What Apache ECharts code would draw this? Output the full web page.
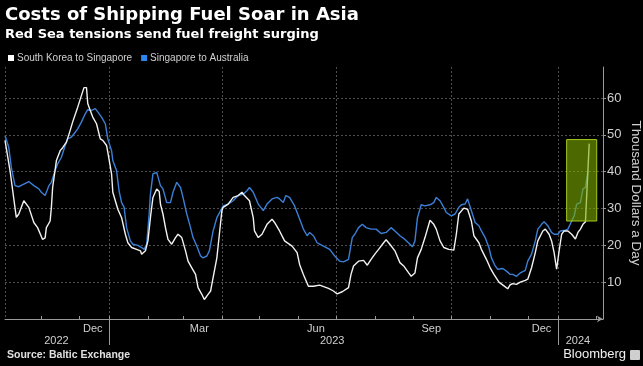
<!DOCTYPE html>
<html><head><meta charset="utf-8">
<script src="https://cdn.jsdelivr.net/npm/echarts@6/dist/echarts.min.js"></script>
<style>html,body{margin:0;padding:0;background:#000;}#c{width:643px;height:366px;}</style>
</head><body><div id="c"></div>
<script>
// South Korea to Singapore (thousand USD/day)
const southKoreaToSingapore = [
['2022-10-03',48.5],['2022-10-07',40.3],['2022-10-12',27.6],['2022-10-14',28.5],['2022-10-18',32.1],['2022-10-22',30.3],['2022-10-26',26.2],['2022-10-29',24.8],
['2022-11-02',21.6],['2022-11-04',22.0],['2022-11-05',24.8],['2022-11-08',26.6],['2022-11-09',30.3],['2022-11-10',35.7],['2022-11-13',43.0],['2022-11-16',45.7],['2022-11-18',46.5],['2022-11-21',48.0],['2022-11-24',51.2],['2022-11-26',53.5],['2022-11-30',57.5],
['2022-12-03',60.7],['2022-12-05',62.8],['2022-12-07',62.8],['2022-12-08',58.5],['2022-12-10',56.6],['2022-12-12',54.8],['2022-12-15',53.0],['2022-12-18',48.9],['2022-12-20',48.5],['2022-12-23',47.1],['2022-12-24',45.3],
['2023-01-03',39.4],['2023-01-04',34.4],['2023-01-06',32.1],['2023-01-08',29.8],['2023-01-11',27.5],['2023-01-14',23.0],['2023-01-16',20.7],['2023-01-19',19.4],['2023-01-23',18.9],['2023-01-26',18.5],['2023-01-27',17.6],['2023-01-30',18.5],
['2023-02-01',21.2],['2023-02-03',27.5],['2023-02-05',33.0],['2023-02-08',35.3],['2023-02-10',34.6],['2023-02-11',31.2],['2023-02-13',28.5],['2023-02-15',24.8],['2023-02-17',21.6],['2023-02-20',20.3],['2023-02-23',22.1],['2023-02-25',23.0],['2023-02-28',22.1],
['2023-03-03',18.5],['2023-03-05',15.7],['2023-03-08',13.9],['2023-03-11',12.1],['2023-03-13',8.5],['2023-03-16',6.7],['2023-03-18',5.3],['2023-03-21',6.7],['2023-03-23',7.6],['2023-03-25',11.2],['2023-03-28',16.6],['2023-03-30',23.0],
['2023-04-01',29.4],['2023-04-02',30.3],['2023-04-06',31.2],['2023-04-10',33.0],['2023-04-14',33.5],['2023-04-17',34.4],['2023-04-19',33.5],['2023-04-23',32.1],['2023-04-26',27.5],['2023-04-27',23.9],['2023-04-30',22.1],
['2023-05-03',23.0],['2023-05-07',25.7],['2023-05-11',27.1],['2023-05-13',26.2],['2023-05-17',23.9],['2023-05-21',21.2],['2023-05-27',19.8],['2023-05-31',18.0],
['2023-06-02',14.8],['2023-06-05',12.1],['2023-06-09',8.9],['2023-06-13',8.9],['2023-06-18',9.2],['2023-06-25',8.3],['2023-06-29',7.6],
['2023-07-02',6.8],['2023-07-06',7.4],['2023-07-11',8.5],['2023-07-13',12.1],['2023-07-15',14.4],['2023-07-19',15.7],['2023-07-23',15.9],['2023-07-26',14.6],['2023-07-29',16.2],
['2023-08-01',17.6],['2023-08-04',18.9],['2023-08-08',20.7],['2023-08-10',21.5],['2023-08-13',20.3],['2023-08-17',18.5],['2023-08-21',15.3],['2023-08-24',14.4],['2023-08-28',12.5],['2023-08-30',11.6],
['2023-09-02',12.5],['2023-09-04',16.6],['2023-09-07',18.9],['2023-09-10',22.1],['2023-09-14',26.8],['2023-09-17',25.7],['2023-09-19',24.4],['2023-09-22',21.2],['2023-09-25',19.4],['2023-09-29',18.9],
['2023-10-03',18.7],['2023-10-05',23.0],['2023-10-07',28.5],['2023-10-11',30.1],['2023-10-14',29.8],['2023-10-17',26.6],['2023-10-19',22.6],['2023-10-23',20.7],['2023-10-25',18.9],['2023-10-29',16.2],
['2023-11-01',13.9],['2023-11-04',12.1],['2023-11-08',10.0],['2023-11-12',9.0],['2023-11-15',8.2],['2023-11-17',9.3],['2023-11-19',9.6],['2023-11-22',9.4],['2023-11-25',10.0],['2023-11-29',10.5],
['2023-12-01',10.8],['2023-12-04',13.9],['2023-12-07',18.0],['2023-12-09',21.2],['2023-12-13',23.9],['2023-12-15',24.4],['2023-12-18',23.0],['2023-12-20',21.2],['2023-12-22',18.0],['2023-12-24',13.5],
['2024-01-02',18.5],['2024-01-04',23.0],['2024-01-06',23.9],['2024-01-09',23.9],['2024-01-12',23.0],['2024-01-15',21.7],['2024-01-17',23.5],['2024-01-19',24.4],['2024-01-21',25.7],['2024-01-23',26.4],['2024-01-26',47.6]
];
// Singapore to Australia (thousand USD/day)
const singaporeToAustralia = [
['2022-10-03',49.8],['2022-10-06',46.6],['2022-10-08',41.2],['2022-10-11',36.2],['2022-10-14',35.9],['2022-10-18',36.6],['2022-10-22',37.3],['2022-10-26',36.2],['2022-10-30',35.3],
['2022-11-01',34.4],['2022-11-04',33.5],['2022-11-07',36.2],['2022-11-09',37.1],['2022-11-12',40.3],['2022-11-14',42.1],['2022-11-17',43.9],['2022-11-20',47.1],['2022-11-22',48.9],['2022-11-25',49.4],['2022-11-28',50.7],['2022-11-30',51.6],
['2022-12-03',53.5],['2022-12-06',55.7],['2022-12-08',56.8],['2022-12-11',56.6],['2022-12-14',57.1],['2022-12-16',56.2],['2022-12-19',54.8],['2022-12-22',53.0],['2022-12-24',48.9],
['2023-01-03',45.7],['2023-01-04',43.0],['2023-01-07',40.3],['2023-01-09',34.8],['2023-01-11',31.6],['2023-01-13',30.3],['2023-01-15',24.8],['2023-01-18',21.2],['2023-01-20',20.3],['2023-01-24',20.0],['2023-01-27',19.4],['2023-01-29',18.9],['2023-01-31',20.3],
['2023-02-02',28.5],['2023-02-03',33.9],['2023-02-05',39.4],['2023-02-08',39.8],['2023-02-11',36.2],['2023-02-13',35.3],['2023-02-16',31.6],['2023-02-19',31.6],['2023-02-21',34.4],['2023-02-24',37.1],['2023-02-27',35.7],
['2023-03-01',33.0],['2023-03-04',28.5],['2023-03-07',24.8],['2023-03-09',22.1],['2023-03-12',19.8],['2023-03-15',17.1],['2023-03-17',16.6],['2023-03-20',17.1],['2023-03-22',18.5],['2023-03-25',23.9],['2023-03-28',27.5],['2023-03-31',29.4],
['2023-04-02',30.7],['2023-04-06',31.2],['2023-04-10',32.1],['2023-04-14',33.5],['2023-04-18',33.9],['2023-04-21',34.8],['2023-04-23',35.7],['2023-04-26',34.4],['2023-04-30',31.2],
['2023-05-04',29.4],['2023-05-07',31.2],['2023-05-11',32.6],['2023-05-15',33.0],['2023-05-17',32.6],['2023-05-20',31.6],['2023-05-22',33.5],['2023-05-25',33.0],['2023-05-29',30.7],
['2023-06-01',28.0],['2023-06-05',24.4],['2023-06-08',22.6],['2023-06-10',23.5],['2023-06-13',22.6],['2023-06-16',20.7],['2023-06-18',20.3],['2023-06-21',19.8],['2023-06-26',18.9],['2023-06-30',17.1],
['2023-07-04',15.7],['2023-07-07',15.5],['2023-07-11',16.2],['2023-07-14',22.1],['2023-07-16',23.0],['2023-07-19',24.8],['2023-07-22',25.7],['2023-07-25',24.8],['2023-07-29',24.4],
['2023-08-02',24.4],['2023-08-06',23.2],['2023-08-10',23.5],['2023-08-14',24.8],['2023-08-17',23.9],['2023-08-21',22.6],['2023-08-25',21.6],['2023-08-29',20.3],['2023-08-31',19.6],
['2023-09-02',21.2],['2023-09-04',27.5],['2023-09-07',31.0],['2023-09-10',30.7],['2023-09-14',31.0],['2023-09-17',31.6],['2023-09-19',33.0],['2023-09-22',32.1],['2023-09-25',30.3],['2023-09-27',28.9],
['2023-10-01',28.0],['2023-10-04',28.5],['2023-10-07',30.3],['2023-10-09',31.0],['2023-10-12',31.2],['2023-10-14',32.6],['2023-10-17',29.4],['2023-10-20',26.2],['2023-10-23',25.3],['2023-10-25',23.9],['2023-10-28',22.1],['2023-10-31',19.4],
['2023-11-02',16.6],['2023-11-05',14.4],['2023-11-07',13.5],['2023-11-11',13.7],['2023-11-14',13.0],['2023-11-17',12.1],['2023-11-19',12.1],['2023-11-22',11.6],['2023-11-25',12.5],['2023-11-29',13.2],
['2023-12-01',15.7],['2023-12-04',17.6],['2023-12-07',21.2],['2023-12-09',24.4],['2023-12-12',25.7],['2023-12-14',26.4],['2023-12-17',25.3],['2023-12-20',23.5],['2023-12-22',23.0],
['2024-01-01',23.0],['2024-01-03',23.9],['2024-01-07',24.1],['2024-01-09',24.4],['2024-01-12',26.6],['2024-01-14',28.0],['2024-01-16',31.2],['2024-01-19',31.6],['2024-01-21',35.3],['2024-01-23',35.7],['2024-01-25',40.3]
];
const monthLabels = [['2022-12-12','Dec'],['2023-03-14','Mar'],['2023-06-15','Jun'],['2023-09-15','Sep'],['2023-12-12','Dec']];
const yearLabels = [['2022-11-13','2022'],['2023-06-28','2023'],['2024-01-17','2024']];
const yTickLabels = [10,20,30,40,50,60];
const highlightBox = [['2024-01-08',48.7],['2024-02-01',26.6]];

// axis days (holiday week Dec 25-31 not on the axis)
const days = [];
const cur = new Date(Date.UTC(2022,9,3));
const last = Date.UTC(2024,1,6);
while (cur.getTime() <= last) {
  const m = cur.getUTCMonth(), dd = cur.getUTCDate();
  if (!(m === 11 && dd >= 25)) days.push(cur.toISOString().slice(0,10));
  cur.setUTCDate(dd + 1);
}
const monthMap = new Map(monthLabels);
const yearMap = new Map(yearLabels);
const FONT = 'Liberation Sans';
const axisGray = '#9a9a9a';
const gridStyle = {color:'#4d4d4d', width:1, type:[2,2]};

const chart = echarts.init(document.getElementById('c'), null, {renderer:'canvas'});
chart.setOption({
  backgroundColor:'#000',
  animation:false,
  textStyle:{fontFamily:FONT},
  title:[
    {text:'Costs of Shipping Fuel Soar in Asia', left:5, top:6, padding:0, textStyle:{fontFamily:'DejaVu Sans', fontWeight:'bold', fontSize:18, color:'#ffffff'}},
    {text:'Red Sea tensions send fuel freight surging', left:5, top:28, padding:0, textStyle:{fontFamily:'DejaVu Sans', fontWeight:'bold', fontSize:13, color:'#ffffff'}},
    {text:'Source: Baltic Exchange', left:7, top:350, padding:0, textStyle:{fontFamily:FONT, fontWeight:'bold', fontSize:10.5, color:'#e0e0e0'}},
    {text:'Bloomberg', right:17, top:348, padding:0, textStyle:{fontFamily:FONT, fontWeight:'normal', fontSize:13, color:'#f0f0f0'}}
  ],
  graphic:[{type:'rect', right:3, top:350, shape:{width:10, height:10, r:1}, style:{fill:'#cfcfcf'}}],
  legend:{left:8, top:53, icon:'rect', itemWidth:6, itemHeight:6, itemGap:9, padding:0,
    textStyle:{color:'#d0d0d0', fontSize:10, fontFamily:FONT, padding:[0,0,0,-2]},
    data:[{name:'South Korea to Singapore', itemStyle:{color:'#ffffff'}}, {name:'Singapore to Australia', itemStyle:{color:'#2a86f0'}}]},
  grid:{left:5, right:40, top:67, bottom:47, containLabel:false, outerBoundsMode:'none'},
  xAxis:[
    {type:'category', data:days, boundaryGap:false,
      axisLine:{show:true, lineStyle:{color:axisGray, width:1}, symbol:['none','arrow'], symbolSize:[5,6]},
      axisTick:{show:true, inside:true, length:3, interval:(i,v)=>v.slice(8)==='01', lineStyle:{color:axisGray}},
      axisLabel:{interval:(i,v)=>monthMap.has(v), formatter:v=>monthMap.get(v)||'', color:'#d0d0d0', fontSize:11, margin:4, fontFamily:FONT},
      splitLine:{show:true, interval:(i,v)=> i===0 || /-(01|04|07|10)-01$/.test(v), lineStyle:gridStyle}
    },
    {type:'category', data:days, boundaryGap:false, position:'bottom',
      axisLine:{show:false},
      axisTick:{show:true, length:26, interval:(i,v)=>/-01-01$/.test(v), lineStyle:{color:axisGray}},
      axisLabel:{interval:(i,v)=>yearMap.has(v), formatter:v=>yearMap.get(v)||'', color:'#d0d0d0', fontSize:11, margin:16, fontFamily:FONT},
      splitLine:{show:false}
    }
  ],
  yAxis:{type:'value', position:'right', min:0, max:68.4, interval:10,
    axisLine:{show:true, lineStyle:{color:axisGray, width:1}},
    axisTick:{show:true, length:3, lineStyle:{color:axisGray}},
    axisLabel:{color:'#d0d0d0', fontSize:13, margin:4, showMaxLabel:false, showMinLabel:false, fontFamily:FONT,
      formatter:v=> yTickLabels.includes(v) ? String(v) : ''},
    splitLine:{show:true, showMaxLine:false, showMinLine:false, lineStyle:gridStyle},
    name:'Thousand Dollars a Day', nameLocation:'middle', nameRotate:-90, nameGap:26, nameMoveOverlap:false,
    nameTextStyle:{color:'#d0d0d0', fontSize:13.5, fontFamily:FONT}
  },
  series:[
    {name:'Singapore to Australia', type:'line', xAxisIndex:0, data:singaporeToAustralia, symbol:'none', z:2,
      lineStyle:{color:'#3b7fd6', width:1.4}, itemStyle:{color:'#2a86f0'}},
    {name:'South Korea to Singapore', type:'line', xAxisIndex:0, data:southKoreaToSingapore, symbol:'none', z:3,
      lineStyle:{color:'#f2f2f2', width:1.4}, itemStyle:{color:'#ffffff'},
      markArea:{silent:true, z:10, label:{show:false},
        itemStyle:{color:'rgba(125,175,0,0.6)', borderColor:'#a6c91e', borderWidth:1},
        data:[[{xAxis:highlightBox[0][0], yAxis:highlightBox[0][1]},{xAxis:highlightBox[1][0], yAxis:highlightBox[1][1]}]]}}
  ]
});
</script></body></html>
